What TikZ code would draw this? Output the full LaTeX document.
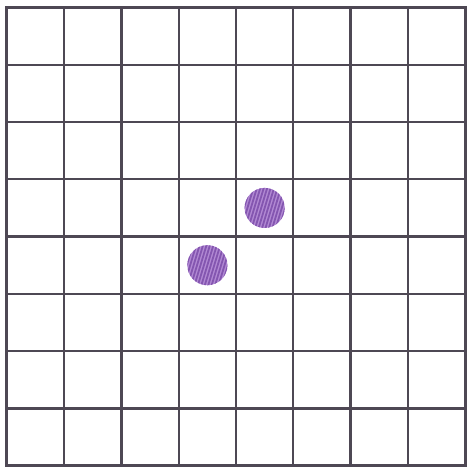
\documentclass[tikz,border=0pt]{standalone}
\definecolor{gridline}{RGB}{78,72,84}
\definecolor{dotbase}{RGB}{178,138,212}
\definecolor{dotstripe}{RGB}{132,86,176}
\usepackage{tikz}

\begin{document}
\begin{tikzpicture}
        \useasboundingbox (-0.12,-0.04) rectangle (8.05,8.13);
        \draw[gridline,line width=1.1pt] (0,0) grid (8,8);
        \draw[gridline,line width=1.5pt] (0,0) rectangle (8,8);
        \foreach \cx/\cy in {4.5/4.5, 3.5/3.5} {
          \fill[dotbase] (\cx,\cy) circle (0.35);
          \begin{scope}
            \clip (\cx,\cy) circle (0.35);
            \foreach \k in {-8,...,8}
              \draw[dotstripe,line width=0.9pt] ({\cx+\k*0.06-0.12},{\cy-0.4}) -- ({\cx+\k*0.06+0.12},{\cy+0.4});
          \end{scope}
        }
      \end{tikzpicture}
\end{document}
